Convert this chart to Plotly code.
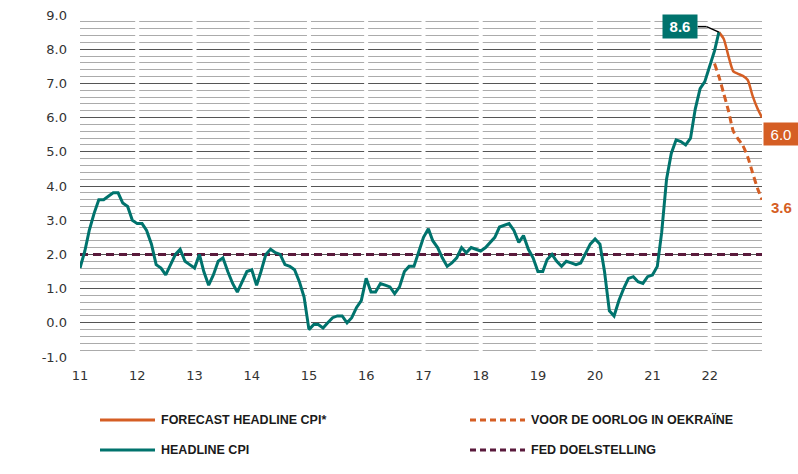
import pandas as pd
import plotly.graph_objects as go

# US headline CPI, y/y % (Jan 2011 - Mar 2022)
headline_cpi = [
    1.6, 2.1, 2.7, 3.2, 3.6, 3.6, 3.7, 3.8, 3.8, 3.5, 3.4, 3.0,      # 2011
    2.9, 2.9, 2.7, 2.3, 1.7, 1.6, 1.4, 1.7, 2.0, 2.15, 1.8, 1.7,    # 2012
    1.6, 2.0, 1.5, 1.1, 1.4, 1.8, 1.9, 1.5, 1.15, 0.9, 1.2, 1.5,    # 2013
    1.55, 1.1, 1.5, 2.0, 2.15, 2.05, 2.0, 1.7, 1.65, 1.55, 1.2, 0.75,  # 2014
    -0.2, -0.05, -0.05, -0.15, 0.0, 0.15, 0.2, 0.2, 0.0, 0.15, 0.45, 0.65,  # 2015
    1.3, 0.9, 0.9, 1.15, 1.1, 1.05, 0.85, 1.05, 1.5, 1.65, 1.65, 2.1,  # 2016
    2.5, 2.75, 2.4, 2.2, 1.9, 1.65, 1.75, 1.9, 2.2, 2.05, 2.2, 2.15,  # 2017
    2.1, 2.2, 2.35, 2.5, 2.8, 2.85, 2.9, 2.7, 2.35, 2.55, 2.15, 1.9,  # 2018
    1.5, 1.5, 1.85, 2.0, 1.8, 1.65, 1.8, 1.75, 1.7, 1.75, 2.05, 2.3,  # 2019
    2.45, 2.3, 1.5, 0.35, 0.2, 0.65, 1.0, 1.3, 1.35, 1.2, 1.15, 1.35,  # 2020
    1.4, 1.65, 2.65, 4.2, 4.95, 5.35, 5.3, 5.2, 5.4, 6.25, 6.85, 7.05,  # 2021
    7.5, 7.95, 8.5,                                                    # 2022
]
headline_start = "2011-01-01"

# forecast from Mar 2022 to Dec 2022
forecast_cpi = [8.5, 8.3, 7.8, 7.35, 7.28, 7.22, 7.1, 6.65, 6.28, 6.0]
forecast_start = "2022-03-01"

# forecast made before the war in Ukraine (Feb 2022 - Dec 2022)
prewar_cpi = [7.58, 7.2, 6.7, 6.2, 5.6, 5.38, 5.18, 4.85, 4.4, 3.95, 3.6]
prewar_start = "2022-02-01"

fed_target = 2.0
years = list(range(2011, 2023))
y_ticks = [-1, 0, 1, 2, 3, 4, 5, 6, 7, 8, 9]

TEAL = "#00736D"
ORANGE = "#D55E24"
MAROON = "#5A1A3C"
LBL_FONT = "Liberation Sans, Arial, sans-serif"

hl_dates = pd.date_range(headline_start, periods=len(headline_cpi), freq="MS")
fc_dates = pd.date_range(forecast_start, periods=len(forecast_cpi), freq="MS")
pw_dates = pd.date_range(prewar_start, periods=len(prewar_cpi), freq="MS")

fig = go.Figure()

fig.add_trace(go.Scatter(x=[hl_dates[0], pd.Timestamp("2022-12-01")], y=[fed_target] * 2,
                         mode="lines", line=dict(color=MAROON, width=3, dash="8px,5px"),
                         name="FED DOELSTELLING", showlegend=False))
fig.add_trace(go.Scatter(x=pw_dates, y=prewar_cpi, mode="lines",
                         line=dict(color=ORANGE, width=3, dash="7px,4px", shape="spline", smoothing=0.6),
                         name="VOOR DE OORLOG IN OEKRAÏNE", showlegend=False))
fig.add_trace(go.Scatter(x=fc_dates, y=forecast_cpi, mode="lines",
                         line=dict(color=ORANGE, width=2.5, shape="spline", smoothing=0.6),
                         name="FORECAST HEADLINE CPI*", showlegend=False))
fig.add_trace(go.Scatter(x=hl_dates, y=headline_cpi, mode="lines",
                         line=dict(color=TEAL, width=3),
                         name="HEADLINE CPI", showlegend=False))

# leader line to the 8.6 label
fig.add_shape(type="line", x0="2021-10-16", x1="2021-12-12", y0=8.66, y1=8.66,
              line=dict(color="black", width=1.5), layer="above")
fig.add_shape(type="line", x0="2021-12-12", x1=fc_dates[0], y0=8.66, y1=forecast_cpi[0],
              line=dict(color="black", width=1.5), layer="above")

# white year separators over the horizontal grid
for yr in years[1:]:
    fig.add_shape(type="line", x0=f"{yr}-01-01", x1=f"{yr}-01-01", y0=-1, y1=9,
                  line=dict(color="white", width=4), layer="between")

fig.add_annotation(x="2021-06-25", y=8.66, text="<b>8.6</b>", showarrow=False,
                   bgcolor=TEAL, font=dict(color="white", size=15, family=LBL_FONT),
                   width=30, height=19, borderpad=2)
fig.add_annotation(xref="paper", x=1.002, xanchor="left", y=5.52, text="6.0", showarrow=False,
                   bgcolor=ORANGE, font=dict(color="white", size=15, family=LBL_FONT),
                   width=30, height=18, borderpad=2)
fig.add_annotation(xref="paper", x=1.01, xanchor="left", y=3.38, text="<b>3.6</b>", showarrow=False,
                   font=dict(color=ORANGE, size=15, family=LBL_FONT))

# custom legend (two columns)
legend_items = [
    ("FORECAST HEADLINE CPI*", ORANGE, "solid", 0, 0),
    ("VOOR DE OORLOG IN OEKRAÏNE", ORANGE, "6px,4px", 1, 0),
    ("HEADLINE CPI", TEAL, "solid", 0, 1),
    ("FED DOELSTELLING", MAROON, "6px,4px", 1, 1),
]
plot_w, plot_h = 682, 342
col_x = [100 - 80, 470 - 80]
row_y = [420 - 357, 450 - 357]
for label, color, dash, col, row in legend_items:
    x0 = col_x[col] / plot_w
    x1 = (col_x[col] + 55) / plot_w
    yy = -row_y[row] / plot_h
    fig.add_shape(type="line", xref="paper", yref="paper", x0=x0, x1=x1, y0=yy, y1=yy,
                  line=dict(color=color, width=3, dash=dash))
    fig.add_annotation(xref="paper", yref="paper", x=(col_x[col] + 59) / plot_w, y=yy,
                       xanchor="left", yanchor="middle", text=f"<b>{label}</b>", showarrow=False,
                       font=dict(size=12.5, color="#1a1a1a", family=LBL_FONT))

fig.update_layout(
    width=798, height=474,
    margin=dict(l=80, r=36, t=15, b=117),
    paper_bgcolor="white", plot_bgcolor="white",
    font=dict(family="DejaVu Sans, sans-serif", size=13, color="#333333"),
    showlegend=False,
)
fig.update_xaxes(
    range=["2011-01-01", "2022-12-01"],
    tickvals=[f"{y}-01-01" for y in years], tickformat="%y",
    showgrid=False, zeroline=False, showline=False, ticks="",
    ticklabelstandoff=9, automargin=False,
)
fig.update_yaxes(
    range=[-1, 9], tickvals=y_ticks, ticktext=[f"{v:.1f}" for v in y_ticks],
    showgrid=True, gridcolor="#555555", gridwidth=1,
    minor=dict(dtick=0.2, showgrid=True, gridcolor="#ababab", gridwidth=1),
    zeroline=False, showline=False, ticks="",
    ticklabelstandoff=12, automargin=False,
)

fig.write_html("out.html", config={"displayModeBar": False},
               post_script="document.body.style.margin='0';")
